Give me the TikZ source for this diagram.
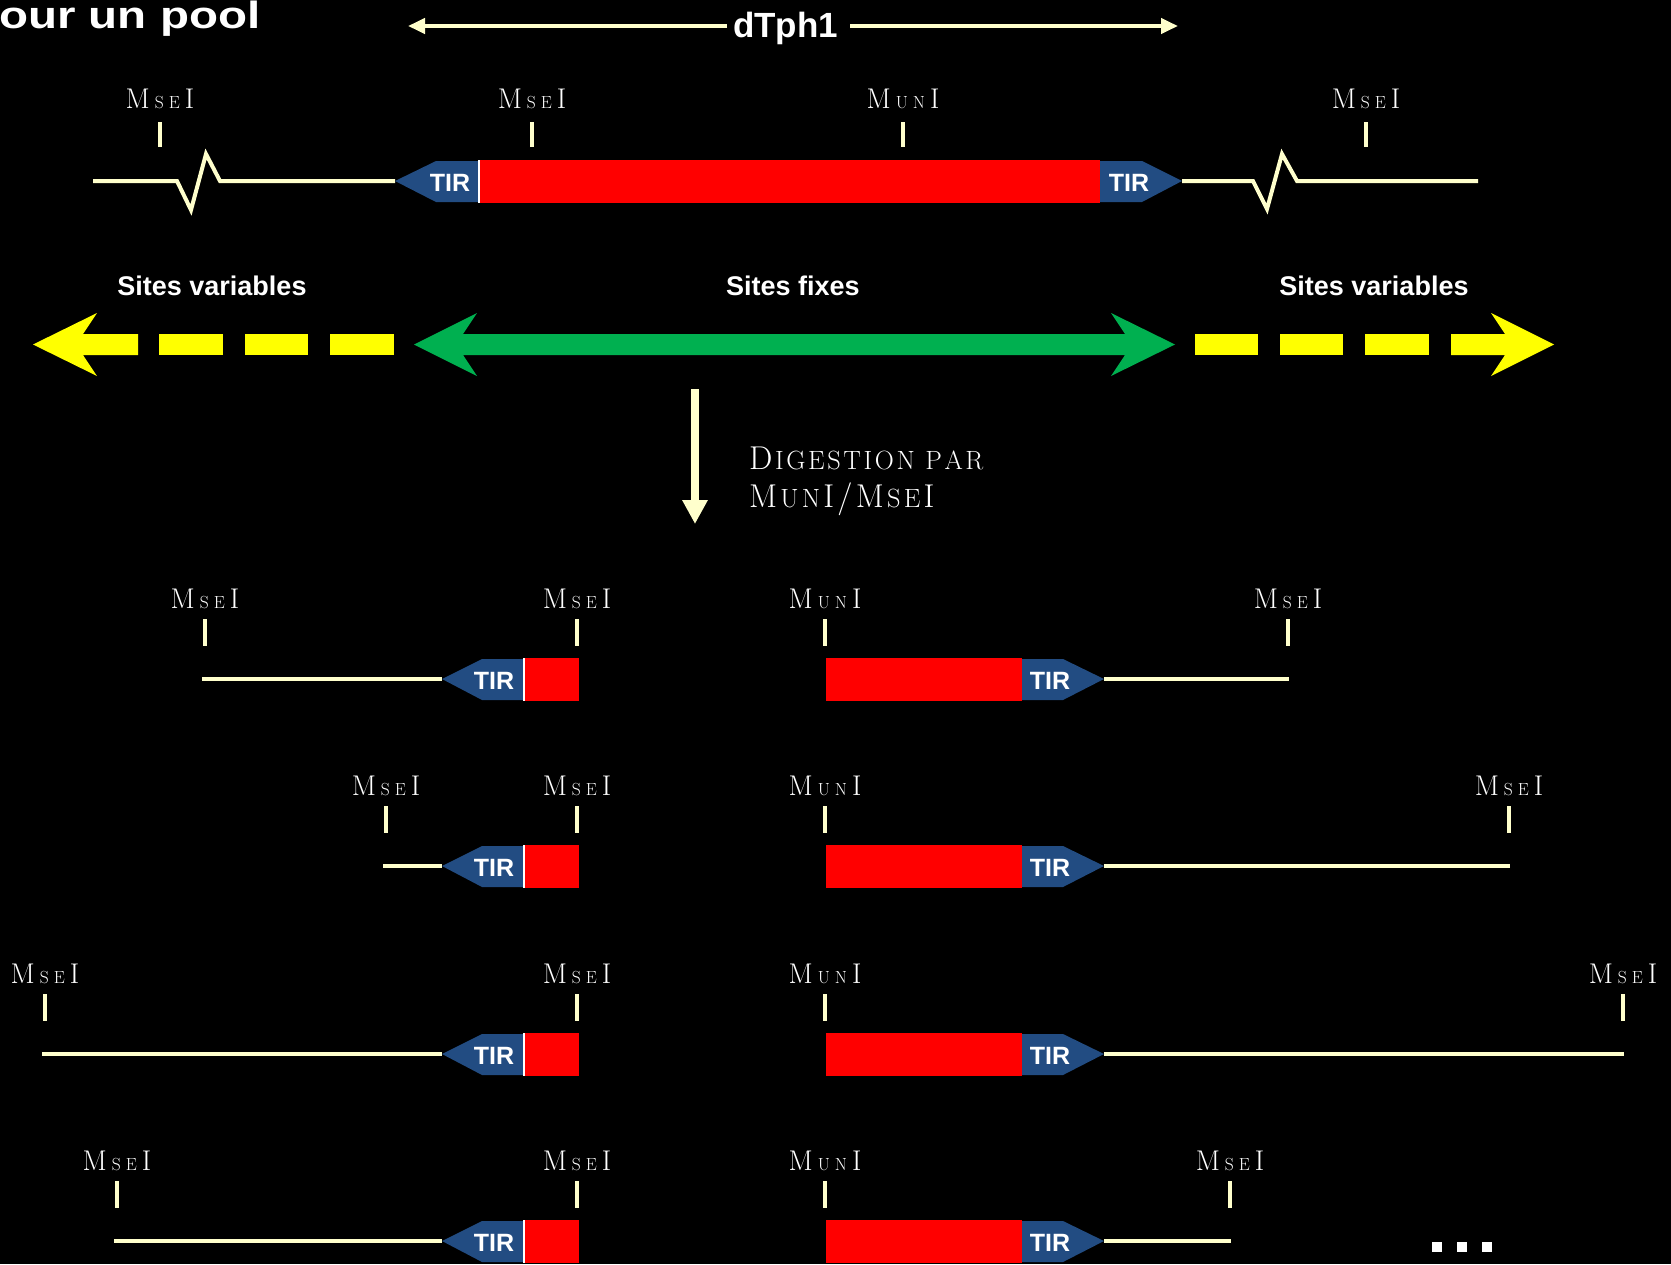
\documentclass[tikz,border=0pt]{standalone}
\usepackage{fontspec}
\setsansfont{Liberation Sans}
\usepackage{graphicx}
\usetikzlibrary{arrows.meta}
\definecolor{cream}{RGB}{255,255,204}
\definecolor{tirblue}{RGB}{34,76,130}
\definecolor{mygreen}{RGB}{0,176,80}
\definecolor{myyellow}{RGB}{255,255,0}
\definecolor{myred}{RGB}{255,0,0}
\newcommand{\lbfont}{\fontsize{28.5}{30}\selectfont}
\newcommand{\smfont}{\fontsize{17.5}{18}\selectfont}
\newcommand{\labMse}{{\lbfont M\kern5pt{\smfont S\kern5pt E}\kern5pt I}}
\newcommand{\labMun}{{\lbfont M\kern5pt{\smfont U\kern5pt N}\kern5pt I}}
\newcommand{\dgbig}{\fontsize{33}{36}\selectfont}
\newcommand{\dgsm}{\fontsize{26.4}{28}\selectfont}
\newcommand{\gk}{\kern2.6pt}
\newcommand{\hk}{\kern3.2pt}
\tikzset{
  dna/.style={draw=cream, line width=4pt},
  tickmark/.style={draw=cream, line width=4pt},
  tirtext/.style={text=white, inner sep=0pt, anchor=base, font=\sffamily\bfseries\fontsize{25}{25}\selectfont},
  sitelab/.style={text=white, inner sep=0pt, anchor=base, font=\sffamily\bfseries\fontsize{27}{27}\selectfont},
  enzlab/.style={text=white, inner sep=0pt, anchor=base},
}
\newcommand{\fragrow}[4]{%
  \coordinate (ls#4) at (#2-3,#1);
  \coordinate (lt#4) at (442,#1);
  \coordinate (rt#4) at (1104,#1);
  \coordinate (re#4) at (#3+1,#1);
  \draw[dna] (ls#4) -- (lt#4);
  \draw[dna] (rt#4) -- (re#4);
  \fill[tirblue] (lt#4) -- (482,#1-20) -- (523,#1-20) -- (523,#1+21) -- (482,#1+21) -- cycle;
  \fill[white] (523,#1-21) rectangle (525,#1+22);
  \fill[myred] (525,#1-21) rectangle (579,#1+22);
  \fill[myred] (826,#1-21) rectangle (1022,#1+22);
  \fill[tirblue] (1022,#1-20) -- (1063,#1-20) -- (rt#4) -- (1063,#1+21) -- (1022,#1+21) -- cycle;
  \node[tirtext] (tirL#4) at (494,#1+10) {TIR};
  \node[tirtext] (tirR#4) at (1050,#1+10) {TIR};
  \draw[tickmark] (#2,#1-60) -- (#2,#1-33);
  \draw[tickmark] (577,#1-60) -- (577,#1-33);
  \draw[tickmark] (825,#1-60) -- (825,#1-33);
  \draw[tickmark] (#3,#1-60) -- (#3,#1-33);
  \node[enzlab] (la#4) at (#2,#1-71) {\labMse};
  \node[enzlab] (lb#4) at (577,#1-71) {\labMse};
  \node[enzlab] (lc#4) at (825,#1-71) {\labMun};
  \node[enzlab] (ld#4) at (#3,#1-71) {\labMse};
}
\begin{document}
\begin{tikzpicture}[x=1pt,y=-1pt]
\fill[black] (0,0) rectangle (1671,1264);
\useasboundingbox (0,0) rectangle (1671,1264);

% title
\node[anchor=base west, inner sep=0pt, text=white, font=\sffamily\bfseries\fontsize{38}{38}\selectfont] (title) at (-1,28) {\scalebox{1.25}[1]{our un pool}};

% dTph1 arrow
\node[anchor=base, inner sep=0pt, text=white, font=\sffamily\bfseries\fontsize{35}{35}\selectfont] (dtph) at (785.5,37) {dTph1};
\coordinate (dLs) at (727,26);
\coordinate (dLe) at (408,26);
\coordinate (dRs) at (850,26);
\coordinate (dRe) at (1178,26);
\draw[cream, line width=4pt, -{Triangle[length=17pt,width=15pt]}] (dLs) -- (dLe);
\draw[cream, line width=4pt, -{Triangle[length=17pt,width=15pt]}] (dRs) -- (dRe);

% top construct
\draw[dna] (93,181) -- (177,181) -- (191,210) -- (206,154) -- (220,181) -- (395,181);
\draw[dna] (1182,181) -- (1253,181) -- (1267,209) -- (1282,154) -- (1297,181) -- (1478,181);
\fill[tirblue] (395,181) -- (436,161) -- (478,161) -- (478,202) -- (436,202) -- cycle;
\fill[white] (478,160) rectangle (480,203);
\fill[myred] (480,160) rectangle (1100,203);
\fill[tirblue] (1100,161) -- (1142,161) -- (1182,181) -- (1142,202) -- (1100,202) -- cycle;
\node[tirtext] (tirTL) at (450,191) {TIR};
\node[tirtext] (tirTR) at (1129,191) {TIR};
\foreach \x in {160,532,903,1366} {\draw[tickmark] (\x,122) -- (\x,147);}
\node[enzlab] (t1) at (160,108) {\labMse};
\node[enzlab] (t2) at (532,108) {\labMse};
\node[enzlab] (t3) at (903,108) {\labMun};
\node[enzlab] (t4) at (1366,108) {\labMse};

% sites labels
\node[sitelab] (sv1) at (212,295) {Sites variables};
\node[sitelab] (sf) at (793,295) {Sites fixes};
\node[sitelab] (sv2) at (1374,295) {Sites variables};

% yellow left arrow
\fill[myyellow] (33,344.5) -- (97,313) -- (83,334) -- (138,334) -- (138,355) -- (83,355) -- (97,376) -- cycle;
\fill[myyellow] (159,334) rectangle (223,355);
\fill[myyellow] (245,334) rectangle (308,355);
\fill[myyellow] (330,334) rectangle (394,355);
% green double arrow
\fill[mygreen] (414,344.5) -- (477,313) -- (463,334) -- (1125,334) -- (1111,313) -- (1175,344.5) -- (1111,376) -- (1125,355) -- (463,355) -- (477,376) -- cycle;
% yellow right arrow
\fill[myyellow] (1195,334) rectangle (1258,355);
\fill[myyellow] (1280,334) rectangle (1343,355);
\fill[myyellow] (1365,334) rectangle (1429,355);
\fill[myyellow] (1451,334) -- (1505,334) -- (1491,313) -- (1554,344.5) -- (1491,376) -- (1505,355) -- (1451,355) -- cycle;

% digestion arrow
\coordinate (dgs) at (695,389);
\coordinate (dge) at (695,524);
\draw[cream, line width=8pt, -{Triangle[length=24pt,width=24pt]}] (dgs) -- (dge);
\node[anchor=base west, inner sep=0pt, text=white] (dig1) at (749,469) {\dgbig D\gk\dgsm I\gk G\gk E\gk S\gk T\gk I\gk O\gk N \gk P\gk A\gk R};
\node[anchor=base west, inner sep=0pt, text=white] (dig2) at (749,507) {\dgbig M\hk{\dgsm U\hk N}\hk I\hk/\hk M\hk{\dgsm S\hk E}\hk I};

% fragment rows
\fragrow{679}{205}{1288}{a}
\fragrow{866}{386}{1509}{b}
\fragrow{1054}{45}{1623}{c}
\fragrow{1241}{117}{1230}{d}

% ellipsis
\fill[white] (1432,1242) rectangle (1442,1252);
\fill[white] (1457,1242) rectangle (1467,1252);
\fill[white] (1482,1242) rectangle (1492,1252);
\end{tikzpicture}
\end{document}
